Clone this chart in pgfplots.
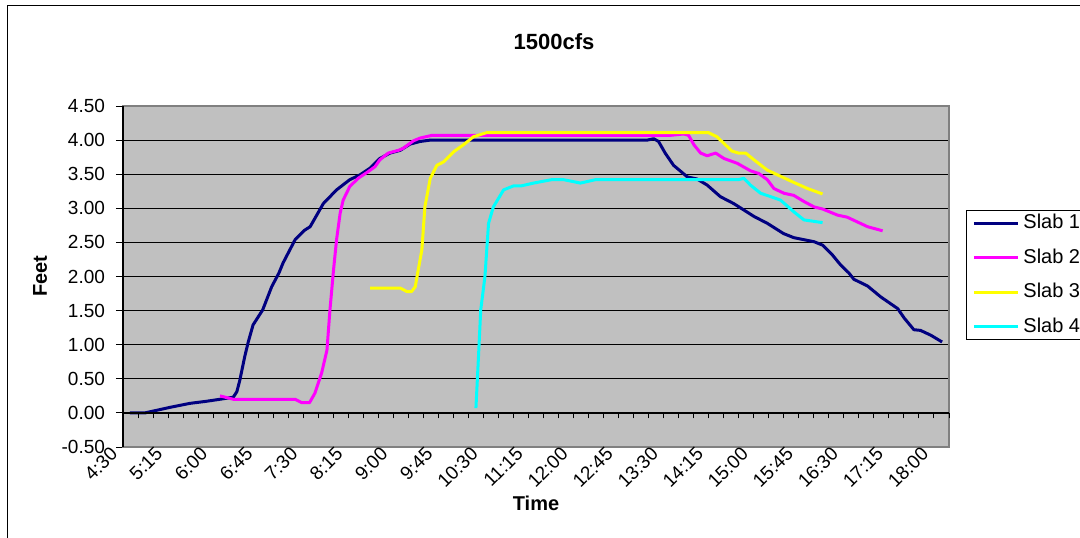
\documentclass[border=0pt]{standalone}
\usepackage{pgfplots}
\pgfplotsset{compat=1.18}
\usepackage{fontspec}
\setmainfont{Liberation Sans}

\definecolor{plotgray}{RGB}{192,192,192}
\definecolor{bordergray}{RGB}{128,128,128}
\definecolor{slabone}{RGB}{0,0,128}
\definecolor{slabtwo}{RGB}{255,0,255}
\definecolor{slabthree}{RGB}{255,255,0}
\definecolor{slabfour}{RGB}{0,255,255}

% Water depth (feet) against time of day (decimal hours)
\begin{document}
\begin{tikzpicture}[x=0.5pt,y=0.5pt]
\useasboundingbox (0,0) rectangle (1080,537);
\clip (0,0) rectangle (1080,537);
\draw[black, line width=0.5pt] (7,-10) rectangle (1100,531);
\coordinate (plotSW) at (123,90);

\node[font=\fontsize{11}{13}\selectfont\bfseries] at (554,495) {1500cfs};

\begin{axis}[
  at={(plotSW)}, anchor=south west,
  scale only axis, width=413pt, height=170.5pt,
  xmin=4.375, xmax=18.125, ymin=-0.5, ymax=4.5,
  axis background/.style={fill=plotgray},
  axis line style={bordergray, line width=0.6pt},
  ytick={-0.5,0,0.5,1,1.5,2,2.5,3,3.5,4,4.5},
  yticklabel style={xshift=-2pt, /pgf/number format/.cd, fixed, fixed zerofill, precision=2, assume math mode=true},
  ymajorgrids, grid style={black, line width=0.5pt},
  ytick pos=left, tick align=outside,
  y tick style={black, line width=0.5pt}, major tick length=3.5pt,
  xtick={4.5,5.25,6,6.75,7.5,8.25,9,9.75,10.5,11.25,12,12.75,13.5,14.25,15,15.75,16.5,17.25,18},
  xticklabels={4:30,5:15,6:00,6:45,7:30,8:15,9:00,9:45,10:30,11:15,12:00,12:45,13:30,14:15,15:00,15:45,16:30,17:15,18:00},
  x tick style={draw=none},
  xticklabel style={rotate=45, anchor=east, inner sep=1pt, xshift=-3.5pt, yshift=7pt},
  tick label style={font=\fontsize{9.5}{11}\selectfont},
  xlabel={\bfseries Time}, ylabel={\bfseries Feet},
  label style={font=\fontsize{10}{12}\selectfont},
  every axis x label/.style={at={(rel axis cs:0.5,-0.164)}, anchor=center},
  every axis y label/.style={at={(rel axis cs:-0.1005,0.501)}, anchor=center, rotate=90},
  every axis line/.append style={line cap=rect},
  legend style={at={(1.0206,0.695)}, anchor=north west, draw=black, fill=white,
    font=\fontsize{10}{12}\selectfont, row sep=4.5pt, inner xsep=3pt, inner ysep=0pt},
  legend cell align=left,
  legend image code/.code={\draw[#1] (0pt,0pt) -- (22pt,0pt);},
  every axis plot/.append style={line width=1.5pt, line join=round},
]
\addplot[slabone] coordinates {
(4.49,0.00) (4.74,0.00) (5.15,0.08) (5.49,0.14) (5.76,0.17) (5.99,0.20) (6.21,0.23)
(6.27,0.31) (6.32,0.48) (6.40,0.82) (6.46,1.04) (6.54,1.29) (6.70,1.51) (6.85,1.85)
(6.97,2.05) (7.04,2.20) (7.24,2.54) (7.40,2.68) (7.49,2.73) (7.71,3.07) (7.93,3.27)
(8.15,3.42) (8.32,3.49) (8.49,3.59) (8.65,3.73) (8.82,3.81) (8.99,3.85) (9.15,3.94)
(9.32,3.98) (9.49,4.00) (13.10,4.00) (13.21,4.02) (13.29,3.98) (13.40,3.81)
(13.54,3.63) (13.77,3.46) (13.93,3.43) (14.10,3.34) (14.32,3.17) (14.54,3.07)
(14.88,2.88) (15.10,2.78) (15.37,2.63) (15.54,2.57) (15.88,2.51) (16.02,2.46)
(16.18,2.32) (16.32,2.17) (16.46,2.05) (16.54,1.96) (16.77,1.86) (16.99,1.70)
(17.27,1.53) (17.38,1.39) (17.54,1.22) (17.65,1.21) (17.82,1.14) (18.01,1.04)
};
\addlegendentry{Slab 1}
\addplot[slabtwo] coordinates {
(5.99,0.25) (6.21,0.20) (7.24,0.20) (7.35,0.15) (7.48,0.15) (7.57,0.29) (7.68,0.58)
(7.77,0.92) (7.82,1.51) (7.88,2.10) (7.93,2.54) (7.99,2.93) (8.04,3.12) (8.15,3.32)
(8.29,3.44) (8.46,3.54) (8.57,3.61) (8.65,3.71) (8.79,3.81) (8.96,3.85) (9.04,3.88)
(9.21,3.99) (9.32,4.03) (9.52,4.07) (13.49,4.07) (13.71,4.09) (13.79,4.07)
(13.88,3.93) (13.99,3.81) (14.10,3.77) (14.24,3.81) (14.38,3.73) (14.60,3.66)
(14.82,3.55) (14.96,3.51) (15.10,3.42) (15.21,3.29) (15.38,3.22) (15.54,3.19)
(15.71,3.10) (15.88,3.02) (16.02,2.99) (16.27,2.90) (16.43,2.87) (16.60,2.80)
(16.77,2.73) (17.02,2.67)
};
\addlegendentry{Slab 2}
\addplot[slabthree] coordinates {
(8.49,1.83) (8.99,1.83) (9.10,1.78) (9.18,1.78) (9.24,1.85) (9.29,2.10) (9.35,2.39)
(9.40,3.02) (9.49,3.44) (9.60,3.63) (9.71,3.68) (9.88,3.83) (10.04,3.93)
(10.21,4.05) (10.43,4.11) (14.12,4.11) (14.26,4.05) (14.38,3.95) (14.51,3.84)
(14.62,3.81) (14.74,3.81) (14.88,3.71) (15.10,3.56) (15.32,3.47) (15.54,3.38)
(15.77,3.29) (16.02,3.21)
};
\addlegendentry{Slab 3}
\addplot[slabfour] coordinates {
(10.25,0.07) (10.29,0.78) (10.33,1.51) (10.40,2.00) (10.46,2.78) (10.54,3.02)
(10.71,3.27) (10.88,3.33) (11.01,3.33) (11.21,3.37) (11.51,3.42) (11.71,3.42)
(11.99,3.37) (12.24,3.42) (14.62,3.42) (14.71,3.44) (14.82,3.34) (14.99,3.22)
(15.16,3.17) (15.32,3.12) (15.54,2.95) (15.71,2.83) (16.02,2.79)
};
\addlegendentry{Slab 4}
\end{axis}

% category axis line through zero with its tick marks
\begin{axis}[
  at={(plotSW)}, anchor=south west,
  scale only axis, width=413pt, height=170.5pt,
  xmin=4.375, xmax=18.125, ymin=-0.5, ymax=4.5,
  axis x line=middle, axis y line=left,
  x axis line style={-, black, line width=0.6pt},
  y axis line style={-, black, line width=0.6pt},
  xtick={4.375,4.625,...,18.2}, xticklabels={},
  ytick=\empty,
  tick align=outside, major tick length=2.75pt,
  x tick style={black, line width=0.5pt},
]
\end{axis}
\end{tikzpicture}
\end{document}
